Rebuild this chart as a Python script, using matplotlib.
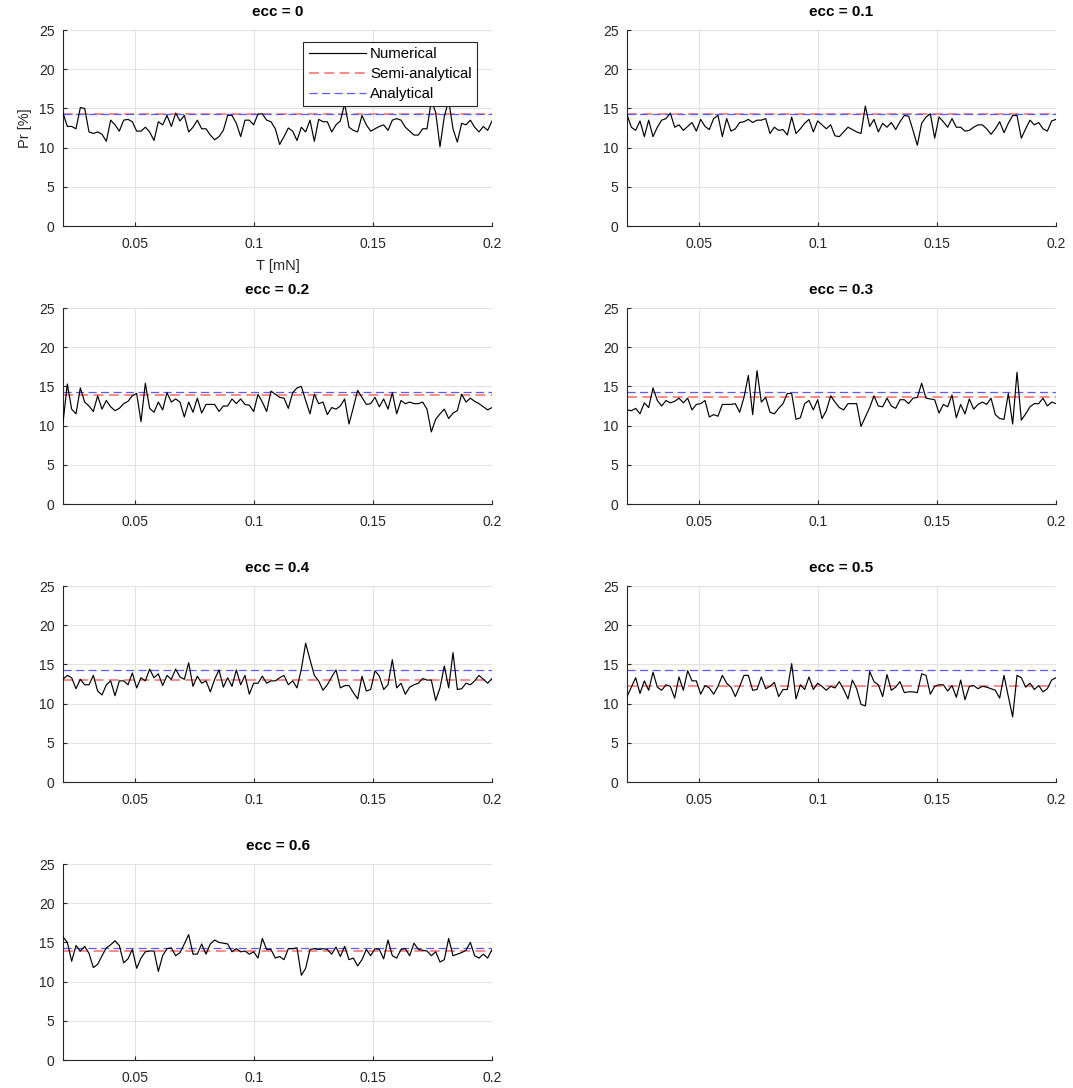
import numpy as np
import matplotlib
matplotlib.use("Agg")
import matplotlib.pyplot as plt

plt.rcParams['font.family'] = ['Liberation Sans', 'DejaVu Sans']

titles = ["ecc = 0", "ecc = 0.1", "ecc = 0.2", "ecc = 0.3", "ecc = 0.4", "ecc = 0.5", "ecc = 0.6"]
t_min, t_max = 0.02, 0.2

num_ecc0 = [14.4, 12.7, 12.7, 12.4, 15.1, 15.0, 12.0, 11.8, 12.0, 11.7, 10.8, 13.5, 12.9, 12.1, 13.5,
            13.6, 13.3, 12.1, 12.1, 12.6, 12.0, 10.9, 13.3, 12.9, 14.1, 12.7, 14.4, 13.4, 14.1, 12.0,
            12.6, 13.5, 12.4, 12.4, 11.6, 11.0, 11.4, 12.2, 14.1, 14.1, 13.1, 11.4, 13.5, 13.5, 12.9,
            14.3, 14.3, 13.5, 13.3, 12.4, 10.4, 11.4, 12.5, 12.1, 10.9, 12.6, 12.0, 13.5, 10.8, 13.6,
            13.3, 13.3, 12.0, 12.9, 13.4, 15.6, 12.6, 12.2, 12.0, 14.1, 12.9, 12.1, 12.4, 12.7, 12.9,
            12.2, 13.5, 13.7, 13.5, 12.6, 12.1, 11.6, 11.6, 12.4, 12.4, 16.0, 14.5, 10.1, 14.0, 16.0,
            12.4, 10.7, 13.1, 12.9, 13.5, 12.6, 12.0, 12.7, 12.2, 13.4]
num_ecc01 = [14.2, 12.6, 12.2, 13.4, 11.4, 13.5, 11.4, 12.6, 13.5, 13.7, 14.4, 12.6, 12.9, 12.2, 12.7,
             13.2, 12.1, 13.6, 12.7, 12.3, 13.7, 14.1, 11.4, 13.7, 12.1, 12.4, 13.2, 13.3, 13.6, 13.2,
             13.5, 13.5, 13.7, 11.8, 12.6, 12.2, 12.3, 11.6, 13.9, 11.8, 12.4, 13.1, 13.6, 12.0, 13.4,
             12.9, 12.4, 12.9, 11.5, 11.4, 12.0, 12.6, 12.3, 12.0, 11.8, 15.3, 12.7, 13.6, 12.0, 13.1,
             12.6, 13.2, 12.3, 13.3, 14.1, 14.0, 12.2, 10.3, 13.1, 13.9, 14.3, 11.2, 13.9, 13.3, 12.6,
             13.7, 12.6, 12.6, 12.1, 12.2, 12.6, 12.9, 12.9, 12.4, 11.7, 12.4, 13.3, 11.9, 13.1, 14.1,
             14.1, 11.2, 12.4, 13.5, 12.9, 13.2, 12.4, 12.1, 13.4, 13.6]
num_ecc02 = [10.4, 15.3, 12.1, 11.5, 14.8, 13.0, 12.5, 11.8, 13.8, 12.1, 13.2, 12.4, 11.9, 12.2, 12.8,
             13.1, 13.8, 14.1, 10.5, 15.4, 12.2, 11.7, 13.0, 12.0, 14.2, 13.0, 13.4, 13.0, 11.1, 13.0,
             11.7, 13.5, 11.6, 12.7, 12.7, 12.7, 11.8, 12.5, 12.5, 13.4, 12.8, 13.4, 12.7, 12.6, 11.8,
             14.0, 13.0, 11.8, 14.4, 14.0, 13.6, 13.5, 12.2, 14.2, 14.8, 15.0, 13.2, 11.5, 14.0, 12.8,
             13.0, 11.4, 12.3, 12.1, 12.5, 13.4, 10.2, 12.3, 14.5, 13.6, 12.7, 12.8, 13.6, 12.4, 13.4,
             12.1, 14.2, 11.5, 13.2, 12.8, 13.0, 12.8, 12.8, 13.0, 12.1, 9.2, 10.8, 11.5, 12.1, 10.9,
             11.6, 11.9, 14.0, 13.0, 13.5, 13.1, 12.8, 12.4, 12.0, 12.3]
num_ecc03 = [12.0, 11.9, 12.2, 11.5, 12.9, 12.3, 14.8, 13.2, 12.5, 13.2, 12.9, 13.1, 13.5, 12.9, 13.5,
             12.0, 12.7, 12.8, 13.2, 11.1, 11.4, 11.2, 12.7, 12.7, 12.7, 12.8, 11.7, 13.6, 16.4, 11.4,
             17.0, 13.0, 13.6, 11.7, 11.5, 12.2, 12.8, 14.1, 14.1, 10.8, 11.0, 12.8, 13.2, 12.0, 13.3,
             10.9, 11.9, 13.8, 13.0, 12.3, 12.0, 12.8, 12.8, 12.8, 9.9, 11.1, 12.3, 13.8, 12.5, 12.4,
             13.5, 12.5, 12.2, 13.3, 13.3, 12.8, 13.5, 13.6, 15.4, 13.5, 13.4, 13.3, 11.6, 12.7, 12.4,
             13.9, 11.0, 12.7, 11.5, 13.4, 12.1, 12.7, 13.0, 12.7, 13.5, 11.4, 10.9, 10.8, 14.1, 10.2,
             16.8, 10.7, 11.5, 12.4, 12.8, 12.8, 13.5, 12.5, 13.0, 12.8]
num_ecc04 = [13.1, 13.6, 13.3, 11.9, 13.1, 12.4, 12.4, 13.6, 11.6, 11.1, 12.4, 12.9, 11.0, 12.9, 12.9,
             12.4, 13.9, 12.0, 13.3, 12.9, 14.4, 13.3, 13.8, 12.3, 13.6, 13.1, 14.4, 13.4, 13.1, 15.2,
             12.2, 13.5, 12.6, 12.9, 11.5, 13.1, 14.3, 12.1, 13.3, 12.2, 14.3, 12.4, 13.6, 11.2, 12.6,
             12.6, 13.5, 12.6, 12.9, 12.9, 13.3, 13.6, 12.4, 12.9, 12.0, 14.4, 17.7, 15.6, 13.6, 12.9,
             11.7, 12.4, 13.4, 14.3, 12.0, 12.3, 12.3, 11.4, 10.6, 13.5, 11.6, 11.8, 14.2, 13.5, 11.8,
             12.4, 15.6, 12.0, 12.6, 11.2, 12.1, 12.4, 12.6, 13.2, 13.0, 13.0, 10.4, 12.0, 14.8, 12.0,
             16.5, 11.8, 11.9, 12.6, 12.4, 12.9, 13.6, 13.1, 12.6, 13.2]
num_ecc05 = [10.9, 12.1, 13.3, 11.3, 12.9, 11.7, 14.0, 12.1, 11.7, 12.4, 12.2, 10.7, 13.4, 11.7, 14.2,
             12.9, 12.9, 11.2, 12.3, 12.0, 11.2, 12.2, 13.6, 12.6, 12.1, 10.9, 12.2, 13.6, 13.6, 11.7,
             11.8, 13.4, 11.9, 12.2, 12.7, 10.9, 11.8, 11.8, 15.1, 10.6, 12.4, 11.8, 13.4, 11.8, 12.6,
             12.2, 11.7, 12.2, 12.0, 12.8, 11.8, 10.6, 13.0, 11.9, 9.9, 9.7, 14.1, 12.8, 12.4, 10.9,
             13.7, 11.7, 12.1, 12.8, 11.4, 11.5, 11.5, 11.4, 13.8, 13.6, 11.2, 12.2, 12.4, 12.4, 11.6,
             12.3, 10.8, 13.0, 10.5, 12.2, 12.3, 11.9, 12.2, 12.1, 11.9, 11.7, 10.7, 13.6, 10.9, 8.3,
             13.6, 13.3, 12.1, 12.6, 11.8, 12.3, 11.5, 11.9, 13.0, 13.3]
num_ecc06 = [15.7, 15.0, 12.6, 14.6, 13.9, 14.5, 13.6, 11.8, 12.2, 13.3, 14.3, 14.7, 15.2, 14.6, 12.4,
             12.9, 14.1, 11.7, 13.0, 13.8, 13.9, 13.9, 11.3, 13.3, 14.2, 14.3, 13.3, 13.7, 14.8, 16.0,
             13.5, 13.5, 14.8, 13.5, 14.8, 15.3, 15.0, 14.9, 14.8, 13.8, 14.2, 13.8, 13.9, 13.5, 13.8,
             13.0, 15.5, 14.1, 14.1, 13.0, 13.2, 12.8, 14.2, 14.2, 14.3, 10.8, 11.7, 14.1, 14.2, 14.1,
             14.2, 14.1, 13.5, 14.4, 13.2, 14.5, 12.8, 13.0, 12.0, 12.8, 14.1, 13.3, 14.2, 14.1, 12.9,
             15.3, 13.3, 13.0, 14.1, 14.2, 13.3, 14.9, 14.1, 14.0, 13.9, 13.3, 13.8, 12.5, 12.8, 15.5,
             13.3, 13.5, 13.7, 14.0, 15.0, 13.3, 13.0, 13.5, 13.0, 14.1]

numerical = [num_ecc0, num_ecc01, num_ecc02, num_ecc03, num_ecc04, num_ecc05, num_ecc06]
semi_analytical = [14.29, 14.25, 13.95, 13.6, 13.0, 12.25, 13.9]
analytical = [14.29, 14.29, 14.29, 14.29, 14.29, 14.29, 14.29]

xticks = [0.05, 0.1, 0.15, 0.2]
xticklabels = ["0.05", "0.1", "0.15", "0.2"]
yticks = [0, 5, 10, 15, 20, 25]

W, H = 1073, 1088
fig = plt.figure(figsize=(W / 100, H / 100), dpi=100)

lefts = [63, 627]
top0 = 30
row_step = 278
ax_w, ax_h = 429, 196

for i, title in enumerate(titles):
    r, c = divmod(i, 2)
    left = lefts[c]
    top = top0 + r * row_step
    ax = fig.add_axes([left / W, 1 - (top + ax_h) / H, ax_w / W, ax_h / H])
    y = np.array(numerical[i])
    x = np.linspace(t_min, t_max, len(y))
    ax.plot(x, y, color='black', lw=0.85, label='Numerical', zorder=3)
    ax.plot([t_min, t_max], [semi_analytical[i]] * 2, color='#ff6a6a', lw=1.1,
            dashes=(6.5, 3.5), label='Semi-analytical', zorder=2)
    ax.plot([t_min, t_max], [analytical[i]] * 2, color='#5a5aff', lw=0.9,
            dashes=(6.5, 3.5), label='Analytical', zorder=2.5)
    ax.set_xlim(t_min, t_max)
    ax.set_ylim(0, 25)
    ax.set_xticks(xticks)
    ax.set_xticklabels(xticklabels)
    ax.set_yticks(yticks)
    ax.grid(True, color='#e3e3e3', lw=0.8)
    ax.set_axisbelow(True)
    for s in ['top', 'right']:
        ax.spines[s].set_visible(False)
    for s in ['left', 'bottom']:
        ax.spines[s].set_color('#262626')
        ax.spines[s].set_linewidth(0.8)
    ax.tick_params(direction='in', length=3, width=0.8, color='#262626',
                   labelsize=10, labelcolor='#262626')
    ax.tick_params(axis='x', pad=8)
    ax.tick_params(axis='y', pad=6)
    ax.set_title(title, fontsize=11, fontweight='bold', pad=10)
    if i == 0:
        ax.set_xlabel('T [mN]', fontsize=10.5, color='#262626', labelpad=6)
        ax.set_ylabel('Pr [%]', fontsize=10.5, color='#262626', labelpad=5)
        leg = ax.legend(loc='upper right', bbox_to_anchor=(0.965, 0.94), fontsize=10.8,
                        handlelength=3.8, handletextpad=0.3, borderpad=0.35,
                        labelspacing=0.4, fancybox=False, framealpha=1, borderaxespad=0)
        leg.get_frame().set_edgecolor('#262626')
        leg.get_frame().set_linewidth(0.8)

fig.savefig('out.png', dpi=100)
